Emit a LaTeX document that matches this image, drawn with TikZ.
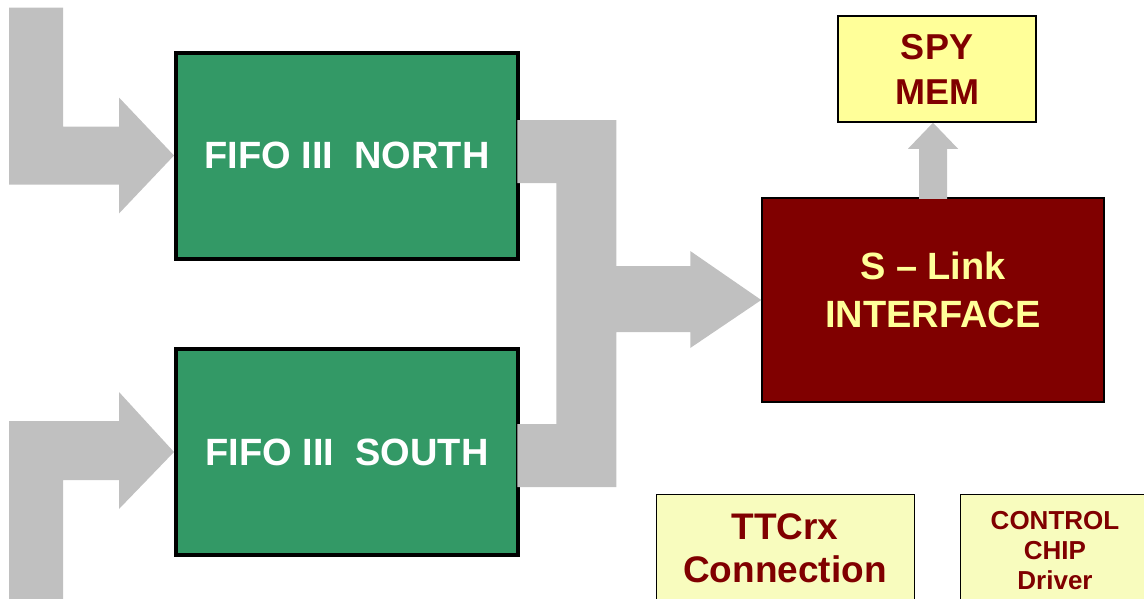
\documentclass[tikz,border=0pt]{standalone}
\usepackage{fontspec}
\setmainfont{Liberation Sans}
\usetikzlibrary{positioning,calc}
\definecolor{fifogreen}{HTML}{339966}
\definecolor{linkred}{HTML}{800000}
\definecolor{memyellow}{HTML}{FFFF99}
\definecolor{infoyellow}{HTML}{F8FCBE}
\definecolor{busgrey}{HTML}{C0C0C0}

\begin{document}
\begin{tikzpicture}[x=1pt, y=-1pt,
    fifobox/.style={draw=black, line width=4pt, fill=fifogreen, minimum width=342pt, minimum height=206pt, text=white, font=\fontsize{38}{44}\selectfont\bfseries},
    linkbox/.style={draw=black, line width=1.5pt, fill=linkred, minimum width=342pt, minimum height=204pt},
    membox/.style={draw=black, line width=1.5pt, fill=memyellow, text=linkred, align=center},
    bus/.style={fill=busgrey}]
    \useasboundingbox (0,0) rectangle (1144,598);
    \clip (0,0) rectangle (1144,598);

    % FIFO blocks and link
    \node[fifobox] (north) at (347,155.5) {FIFO III~~NORTH};
    \node[fifobox] (south) at (347,452) {FIFO III~~SOUTH};
    \node[linkbox, label={[yshift=10pt, text=memyellow, align=center, font=\fontsize{38}{48}\selectfont\bfseries]center:S -- Link\\INTERFACE}] (slink) at (933,300) {};

    % memory and extra blocks
    \node[membox, minimum width=198pt, minimum height=106pt, font=\fontsize{36}{45}\selectfont\bfseries] (spy) at (937,69) {SPY\\MEM};
    \node[membox, fill=infoyellow, line width=1pt, minimum width=258pt, minimum height=108pt, font=\fontsize{37}{43}\selectfont\bfseries] (ttc) at (785,548) {TTCrx\\Connection};
    \node[membox, fill=infoyellow, line width=1pt, minimum width=190pt, minimum height=114pt, font=\fontsize{26}{30}\selectfont\bfseries] (ctrl) at (1055,551) {CONTROL\\CHIP\\Driver};

    % input buses
    \fill[bus] (north.west) -- ++(-55,-58) -- ++(0,29) -- ++(-56,0) -- ++(0,-119) -- ++(-54,0) -- ++(0,177) -- ++(110,0) -- ++(0,29) -- cycle;
    \fill[bus] (south.west) -- ++(-55,-60) -- ++(0,29) -- ++(-110,0) -- ++(0,180) -- ++(54,0) -- ++(0,-121) -- ++(56,0) -- ++(0,29) -- cycle;

    % merged bus into the link
    \fill[bus] (slink.west) -- ++(-71,-49) -- ++(0,15) -- ++(-74,0) -- ++(0,-146) -- ++(-99,0) -- ++(0,63) -- ++(39,0) -- ++(0,241) -- ++(-39,0) -- ++(0,63) -- ++(99,0) -- ++(0,-155) -- ++(74,0) -- ++(0,16) -- cycle;

    % spy bus
    \fill[bus] (slink.north |- spy.south) -- ++(25,26) -- ++(-11,0) -- ++(0,50) -- ++(-28,0) -- ++(0,-50) -- ++(-11,0) -- cycle;
\end{tikzpicture}
\end{document}
